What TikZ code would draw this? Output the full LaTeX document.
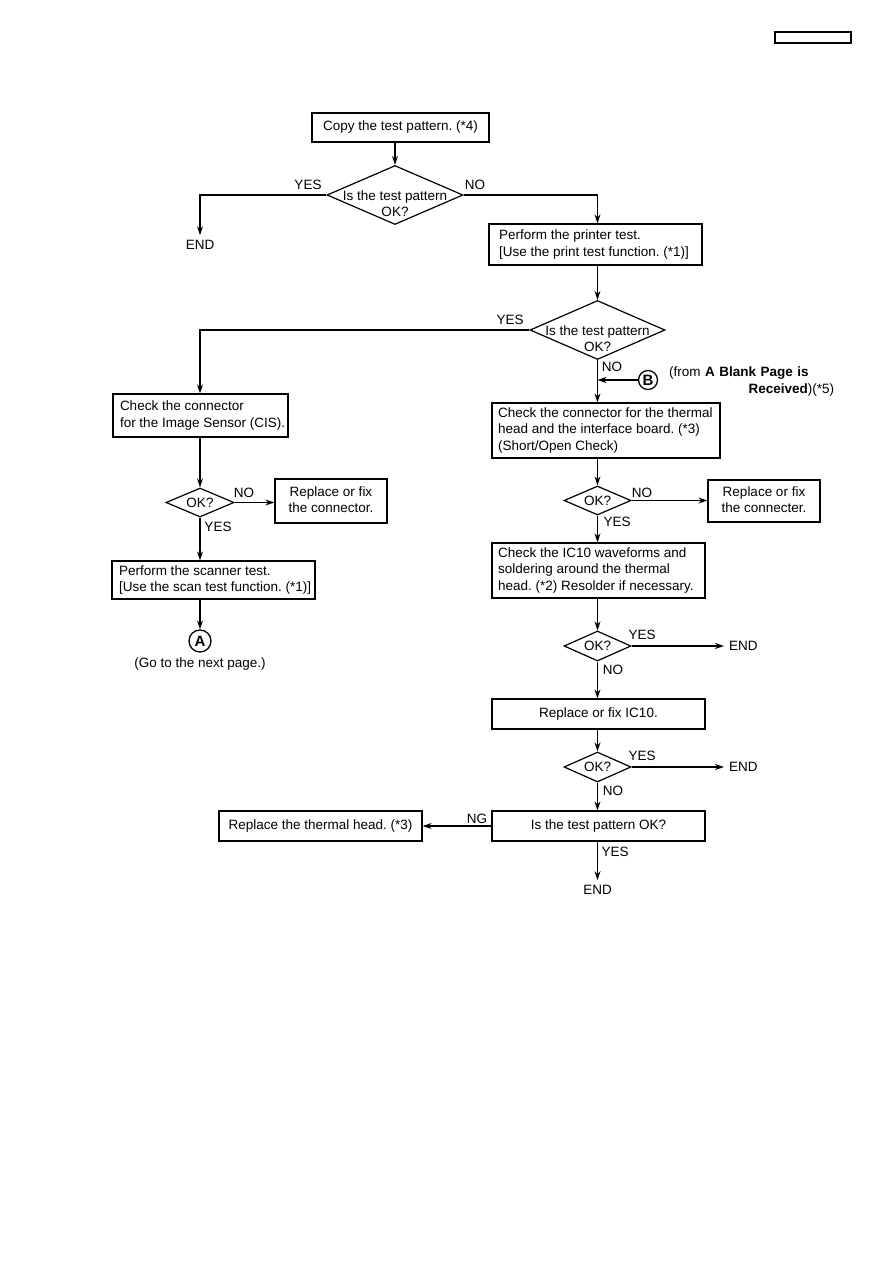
\documentclass[tikz,border=0pt]{standalone}
\usepackage{fontspec}
\setmainfont{Liberation Sans}
\usetikzlibrary{shapes.geometric,arrows.meta}
\frenchspacing
\newcommand{\dtwo}[2]{\raisebox{-14pt}[0pt][0pt]{\makebox[0pt]{\begin{tabular}{@{}c@{}}#1\\#2\end{tabular}}}}
\newcommand{\ltab}[2]{\makebox[#1][l]{\begin{tabular}{@{}l@{}}#2\end{tabular}}}
\newcommand{\ctab}[1]{\begin{tabular}{@{}c@{}}#1\end{tabular}}
\begin{document}
\begin{tikzpicture}[x=1pt,y=-1pt,
  font=\fontsize{13.5}{16.5}\selectfont,
  box/.style={draw, line width=1.3pt, inner ysep=0pt},
  lbox/.style={box},
  cbox/.style={box, inner xsep=0pt},
  dia/.style={diamond, draw, line width=1.2pt, inner sep=0pt, aspect=2.3},
  conn/.style={line width=1.1pt},
  arr/.style={conn, -{Stealth[length=9pt,width=6pt]}},
  endn/.style={inner sep=5pt},
  lbl/.style={inner sep=0pt},
  circ/.style={circle, draw, line width=1.3pt, inner sep=0pt, font=\fontsize{15}{18}\selectfont\bfseries}]
\fill[white] (0,0) rectangle (893,1263);
\useasboundingbox (0,0) rectangle (893,1263);

\node[draw, line width=1.2pt, minimum width=76pt, minimum height=11pt, inner sep=0pt] (hdr) at (813,37.5) {};

% right column
\node[cbox, minimum width=177pt, minimum height=29pt] (copy) at (400.5,127.5) {Copy the test pattern. (*4)};
\node[dia, minimum width=136pt, minimum height=59pt] (d1) at (395,195) {\dtwo{Is the test pattern}{OK?}};
\node[endn] (end1) at (200,245) {END};
\node[lbox, inner xsep=10pt, minimum height=41pt] (box2) at (595.5,244.5) {\ltab{193pt}{Perform the printer test.\\{[}Use the print test function. (*1)]}};
\node[dia, minimum width=135pt, minimum height=59pt] (d2) at (597.5,330) {\dtwo{Is the test pattern}{OK?}};
\node[circ, minimum size=19pt] (B) at (648,380) {B};
\node[lbl, anchor=north west, text width=165pt, align=left] (Btxt) at (669,367) {(from \textbf{A Blank Page is}\\\mbox{}\hfill\textbf{Received})(*5)};
\node[lbox, inner xsep=6pt, minimum height=55pt] (box4) at (606,430.5) {\ltab{216pt}{Check the connector for the thermal\\head and the interface board. (*3)\\(Short/Open Check)}};
\node[dia, minimum width=67pt, minimum height=29pt] (d4) at (597.5,500.5) {OK?};
\node[cbox, minimum width=112pt, minimum height=42pt] (box5) at (764,501) {\ctab{Replace or fix\\the connecter.}};
\node[lbox, inner xsep=6pt, minimum height=55pt] (box6) at (598.5,570.5) {\ltab{201pt}{Check the IC10 waveforms and\\soldering around the thermal\\head. (*2) Resolder if necessary.}};
\node[dia, minimum width=67pt, minimum height=30pt] (d6) at (597.5,646) {OK?};
\node[endn, anchor=west] (end2) at (724,646) {END};
\node[cbox, minimum width=213pt, minimum height=30pt] (box7) at (598.5,714) {Replace or fix IC10.};
\node[dia, minimum width=67pt, minimum height=30pt] (d8) at (597.5,767) {OK?};
\node[endn, anchor=west] (end3) at (724,767) {END};
\node[cbox, minimum width=213pt, minimum height=30pt] (box9) at (598.5,826) {Is the test pattern OK?};
\node[cbox, minimum width=203pt, minimum height=30pt] (box10) at (320.5,826) {Replace the thermal head. (*3)};
\node[endn] (end4) at (597.5,890) {END};

% left column
\node[lbox, inner xsep=7pt, minimum height=43pt] (box3) at (200.5,415.5) {\ltab{161pt}{Check the connector\\for the Image Sensor (CIS).}};
\node[dia, minimum width=68pt, minimum height=29pt] (d3) at (200,502.5) {OK?};
\node[cbox, minimum width=112pt, minimum height=44pt] (fix1) at (331,501) {\ctab{Replace or fix\\the connector.}};
\node[lbox, inner xsep=7pt, minimum height=38pt] (scan) at (213.5,580) {\ltab{189pt}{Perform the scanner test.\\{[}Use the scan test function. (*1)]}};
\node[circ, minimum size=22pt] (A) at (200,641) {A};
\node[lbl] (Atxt) at (200,664) {(Go to the next page.)};

% labels
\node[lbl] (l1) at (308,185) {YES};
\node[lbl] (l2) at (475,185) {NO};
\node[lbl] (l3) at (510,320) {YES};
\node[lbl] (l4) at (612,367) {NO};
\node[lbl] (l5) at (642,493) {NO};
\node[lbl] (l6) at (617,522) {YES};
\node[lbl] (l7) at (642,635) {YES};
\node[lbl] (l8) at (613,670) {NO};
\node[lbl] (l9) at (642,756) {YES};
\node[lbl] (l10) at (613,791) {NO};
\node[lbl] (l11) at (477,819) {NG};
\node[lbl] (l12) at (615,852) {YES};
\node[lbl] (l13) at (244,493) {NO};
\node[lbl] (l14) at (218,527) {YES};

% connectors
\draw[arr] (d1.north |- copy.south) -- (d1.north);
\draw[arr] (d1.west) -| (end1);
\draw[arr] (d1.east) -| (d2.north |- box2.north);
\draw[arr] (d2.north |- box2.south) -- (d2.north);
\draw[arr] (d2.west) -| (d3.north |- box3.north);
\draw[arr] (d2.south) -- (d2.south |- box4.north);
\draw[arr] (B) -- (d2.south |- B);
\draw[arr] (d4.north |- box4.south) -- (d4.north);
\draw[arr] (d4.east) -- (d4.east -| box5.west);
\draw[arr] (d4.south) -- (d4.south |- box6.north);
\draw[arr] (d6.north |- box6.south) -- (d6.north);
\draw[arr] (d6.east) -- (end2);
\draw[arr] (d6.south) -- (d6.south |- box7.north);
\draw[arr] (d8.north |- box7.south) -- (d8.north);
\draw[arr] (d8.east) -- (end3);
\draw[arr] (d8.south) -- (d8.south |- box9.north);
\draw[arr] (box9.west) -- (box10.east);
\draw[arr] (end4.north |- box9.south) -- (end4);
\draw[arr] (d3.north |- box3.south) -- (d3.north);
\draw[arr] (d3.east) -- (d3.east -| fix1.west);
\draw[arr] (d3.south) -- (d3.south |- scan.north);
\draw[arr] (A.north |- scan.south) -- (A.north);
\end{tikzpicture}
\end{document}
